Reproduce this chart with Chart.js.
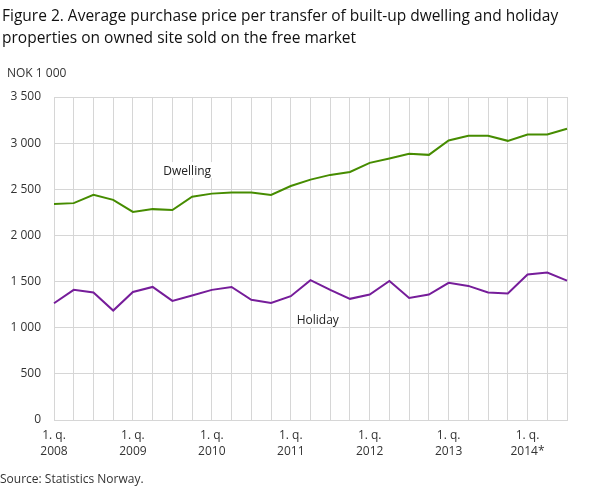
<!DOCTYPE html>
<html>
<head>
<meta charset="utf-8">
<script src="https://cdn.jsdelivr.net/npm/chart.js@4.4.1/dist/chart.umd.min.js"></script>
<style>
  html, body { margin: 0; padding: 0; background: #fff; }
  #wrap { position: relative; width: 609px; height: 488px; }
</style>
</head>
<body>
<div id="wrap"><canvas id="chart" width="609" height="488"></canvas></div>
<script>
// --- data ---
const quarters = [
  '2008 Q1', '2008 Q2', '2008 Q3', '2008 Q4',
  '2009 Q1', '2009 Q2', '2009 Q3', '2009 Q4',
  '2010 Q1', '2010 Q2', '2010 Q3', '2010 Q4',
  '2011 Q1', '2011 Q2', '2011 Q3', '2011 Q4',
  '2012 Q1', '2012 Q2', '2012 Q3', '2012 Q4',
  '2013 Q1', '2013 Q2', '2013 Q3', '2013 Q4',
  '2014 Q1', '2014 Q2', '2014 Q3'
];
const yearLabels = ['2008', '2009', '2010', '2011', '2012', '2013', '2014*'];
const dwelling = [2340, 2350, 2440, 2385, 2255, 2285, 2275, 2420, 2453, 2464, 2464, 2439, 2535,
  2605, 2656, 2688, 2786, 2833, 2884, 2873, 3029, 3080, 3080, 3025, 3094, 3094, 3156];
const holiday = [1265, 1410, 1381, 1186, 1388, 1442, 1291, 1349, 1410, 1442, 1302, 1269, 1342,
  1515, 1410, 1313, 1359, 1507, 1323, 1359, 1486, 1453, 1381, 1370, 1576, 1597, 1511];
const yTicks = [0, 500, 1000, 1500, 2000, 2500, 3000, 3500];

const titleLines = [
  'Figure 2. Average purchase price per transfer of built-up dwelling and holiday',
  'properties on owned site sold on the free market'
];
const unitLabel = 'NOK 1 000';
const sourceText = 'Source: Statistics Norway.';

const FONT = '"Open Sans", "DejaVu Sans", sans-serif';
const gridColor = '#d6d6d6';
const textColor = '#333333';

function fmt(v) {
  if (v < 1000) return String(v);
  return Math.floor(v / 1000) + ' ' + String(v % 1000).padStart(3, '0');
}

// titles, source and in-plot series labels
const textPlugin = {
  id: 'texts',
  afterDraw(chart) {
    const c = chart.ctx;
    const x = chart.scales.x, y = chart.scales.y;
    c.save();
    c.fillStyle = '#111';
    c.textAlign = 'left';
    c.textBaseline = 'alphabetic';
    c.font = '15.5px ' + FONT;
    c.fillText(titleLines[0], 2, 21);
    c.fillText(titleLines[1], 2, 43);

    c.fillStyle = textColor;
    c.font = '12px ' + FONT;
    c.fillText(unitLabel, 7, 77);
    c.fillText(sourceText, 0, 483);

    const labels = [
      { text: 'Dwelling', idx: 6.75, val: 2654 },
      { text: 'Holiday', idx: 13.37, val: 1038 }
    ];
    labels.forEach(l => {
      const px = x.getPixelForValue(l.idx);
      const py = y.getPixelForValue(l.val);
      const w = c.measureText(l.text).width;
      c.fillStyle = '#fff';
      c.fillRect(px - w / 2 - 3, py - 13, w + 6, 16);
      c.fillStyle = '#222';
      c.textAlign = 'center';
      c.fillText(l.text, px, py);
    });
    c.restore();
  }
};

new Chart(document.getElementById('chart'), {
  type: 'line',
  data: {
    labels: quarters,
    datasets: [
      { label: 'Dwelling', data: dwelling, borderColor: '#468c00', borderWidth: 2, pointRadius: 0, tension: 0 },
      { label: 'Holiday', data: holiday, borderColor: '#761d9a', borderWidth: 2, pointRadius: 0, tension: 0 }
    ]
  },
  options: {
    responsive: false,
    animation: false,
    layout: { padding: { top: 97, left: 0, right: 42, bottom: 0 } },
    plugins: {
      legend: { display: false },
      tooltip: { enabled: false }
    },
    scales: {
      x: {
        grid: { color: gridColor, drawTicks: false },
        border: { color: gridColor },
        afterFit(scale) { scale.height = 68; },
        ticks: {
          autoSkip: false,
          maxRotation: 0,
          padding: 7,
          color: textColor,
          font: { family: FONT, size: 12, lineHeight: 1.36 },
          callback: (v, i) => (i % 4 === 0 ? ['1. q.', yearLabels[i / 4]] : '')
        }
      },
      y: {
        min: 0,
        max: 3500,
        afterBuildTicks(scale) { scale.ticks = yTicks.map(v => ({ value: v })); },
        afterFit(scale) { scale.width = 54; },
        grid: { color: gridColor, drawTicks: false },
        border: { color: gridColor },
        ticks: {
          padding: 13,
          color: textColor,
          font: { family: FONT, size: 12 },
          callback: v => fmt(v)
        }
      }
    }
  },
  plugins: [textPlugin]
});
</script>
</body>
</html>
